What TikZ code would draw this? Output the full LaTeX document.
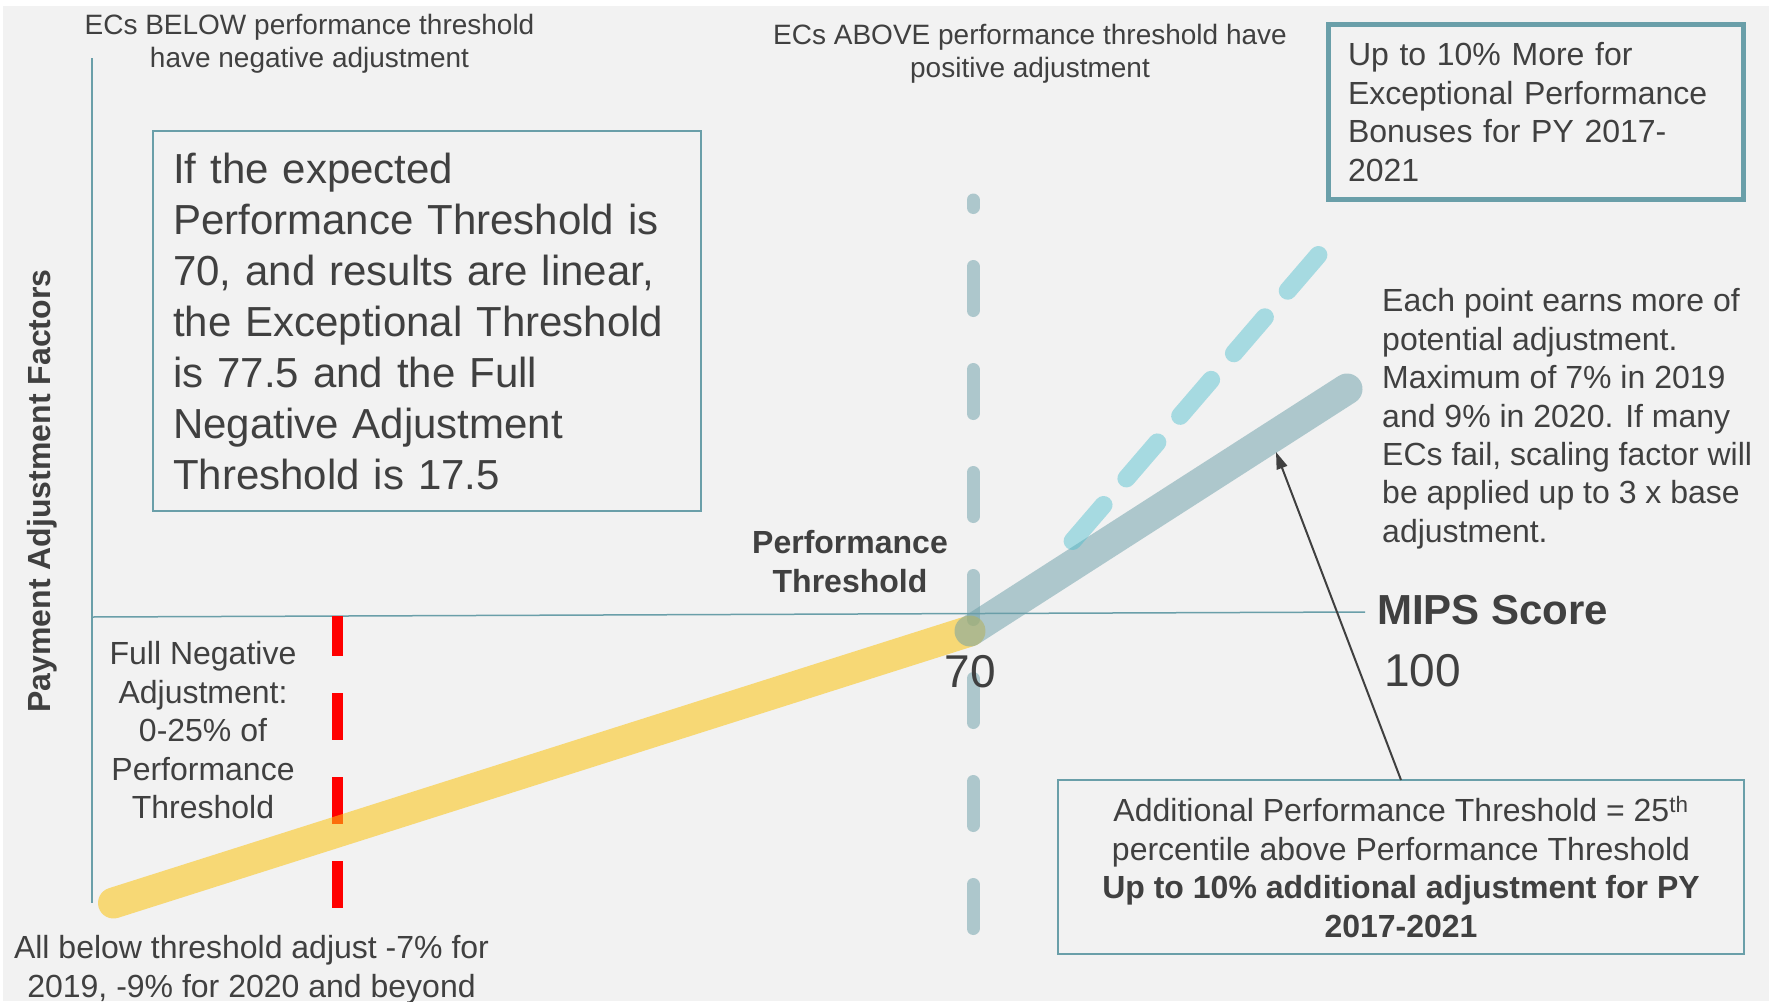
\documentclass[tikz,border=0pt]{standalone}
\usepackage{fontspec}
\setmainfont{Liberation Sans}
\usetikzlibrary{arrows.meta}

\definecolor{pagebg}{RGB}{242,242,242}
\definecolor{ink}{RGB}{64,64,64}
\definecolor{axisteal}{RGB}{106,159,169}
\definecolor{lineteal}{RGB}{106,158,168}
\definecolor{bonuscyan}{RGB}{75,190,205}
\definecolor{negyellow}{RGB}{251,196,20}

\tikzset{
  lbl/.style={text=ink, inner sep=0pt},
  framebox/.style={draw=axisteal, text=ink, outer sep=0pt},
  axisline/.style={draw=axisteal, line width=1.5pt},
  threshdash/.style={draw=lineteal, draw opacity=0.5, line width=13pt, line cap=round,
    dash pattern=on 44pt off 59pt, dash phase=36.5pt},
  fulldash/.style={draw=red, line width=11pt, dash pattern=on 47pt off 37pt, dash phase=7pt},
  negline/.style={draw=negyellow, draw opacity=0.56, line width=31pt, line cap=round},
  posline/.style={draw=lineteal, draw opacity=0.5, line width=31pt, line cap=round},
  bonusline/.style={draw=bonuscyan, draw opacity=0.45, line width=18pt, line cap=round,
    dash pattern=on 47.5pt off 35pt},
  pointer/.style={draw=ink, line width=2pt, -{Triangle[length=17pt,width=11pt]}}
}

\begin{document}
\begin{tikzpicture}[x=1pt,y=-1pt]
\useasboundingbox (0,0) rectangle (1769,1001);
\fill[white] (0,0) rectangle (1769,1001);
\fill[pagebg] (3,6) rectangle (1769,1001);

% chart coordinates
\coordinate (ytop) at (92,58);
\coordinate (ybot) at (92,903);
\coordinate (xleft) at (92,617);
\coordinate (xright) at (1365,612);
\coordinate (thtop) at (973,200);
\coordinate (thbot) at (973,928.5);
\coordinate (fulltop) at (337,616);
\coordinate (fullbot) at (337,908);
\coordinate (negstart) at (113.5,903);
\coordinate (pt70) at (970,631);
\coordinate (posend) at (1347,389);
\coordinate (bonstart) at (1072.6,541);
\coordinate (bonend) at (1318.4,255);
\coordinate (tip) at (1276,452);

% threshold marker and axes
\draw[threshdash] (thtop) -- (thbot);
\draw[axisline] (ytop) -- (ybot);
\draw[axisline] (xleft) -- (xright);
\draw[fulldash] (fulltop) -- (fullbot);

% adjustment lines
\draw[negline] (negstart) -- (pt70);
\draw[posline] (pt70) -- (posend);
\draw[bonusline] (bonstart) -- (bonend);

% labels
\node[lbl, anchor=north, align=center, font=\fontsize{28}{33}\selectfont] (below)
  at (309.5,14) {ECs BELOW performance threshold\\have negative adjustment};
\node[lbl, anchor=north, align=center, font=\fontsize{28}{33}\selectfont] (above)
  at (1030,24) {ECs ABOVE performance threshold have\\positive adjustment};

\node[framebox, line width=2pt, anchor=north west, text width=508pt, inner xsep=20pt,
  inner ysep=0pt, minimum height=380pt, align=left, font=\fontsize{42}{51}\selectfont] (expbox)
  at (153,131) {If the expected\\Performance Threshold is\\70, and results are linear,\\the Exceptional Threshold\\is 77.5 and the Full\\Negative Adjustment\\Threshold is 17.5};

\node[framebox, line width=5pt, anchor=north west, text width=376pt, inner xsep=19.5pt,
  inner ysep=18pt, align=left, font=\fontsize{32}{38.5}\selectfont] (bonusbox)
  at (1328.5,24.5) {Up to 10\% More for\\Exceptional Performance\\Bonuses for PY 2017-\\2021};

\node[lbl, anchor=north west, align=left, font=\fontsize{32}{38.4}\selectfont] (each)
  at (1382,288.5) {Each point earns more of\\potential adjustment.\\Maximum of 7\% in 2019\\and 9\% in 2020. If many\\ECs fail, scaling factor will\\be applied up to 3 x base\\adjustment.};

\node[lbl, anchor=west, font=\bfseries\fontsize{42}{50}\selectfont] (mips) at (1377,610) {MIPS Score};
\node[lbl, anchor=west, font=\fontsize{46}{54}\selectfont] (hundred) at (1384,671) {100};
\node[lbl, font=\fontsize{46}{54}\selectfont] (seventy) at (970,672) {70};

\node[lbl, anchor=north, align=center, font=\bfseries\fontsize{32}{39.5}\selectfont] (perf)
  at (850,530) {Performance\\Threshold};

\node[lbl, anchor=north, align=center, font=\fontsize{32}{38.5}\selectfont] (fullneg)
  at (203,641.5) {Full Negative\\Adjustment:\\0-25\% of\\Performance\\Threshold};

\node[lbl, anchor=north, align=center, font=\fontsize{32}{38.4}\selectfont] (allbelow)
  at (251.5,935.5) {All below threshold adjust -7\% for\\2019, -9\% for 2020 and beyond};

\node[lbl, anchor=base, rotate=90, font=\bfseries\fontsize{32}{38}\selectfont] (ylab)
  at (50,491) {Payment Adjustment Factors};

\node[framebox, line width=2pt, minimum width=686pt, minimum height=174pt, inner sep=0pt,
  align=center, font=\fontsize{32}{38.4}\selectfont] (addbox)
  at (1401,867) {Additional Performance Threshold = 25\textsuperscript{th}\\percentile above Performance Threshold\\\textbf{Up to 10\% additional adjustment for PY}\\\textbf{2017-2021}};

\draw[pointer] (addbox.north) -- (tip);
\end{tikzpicture}
\end{document}
